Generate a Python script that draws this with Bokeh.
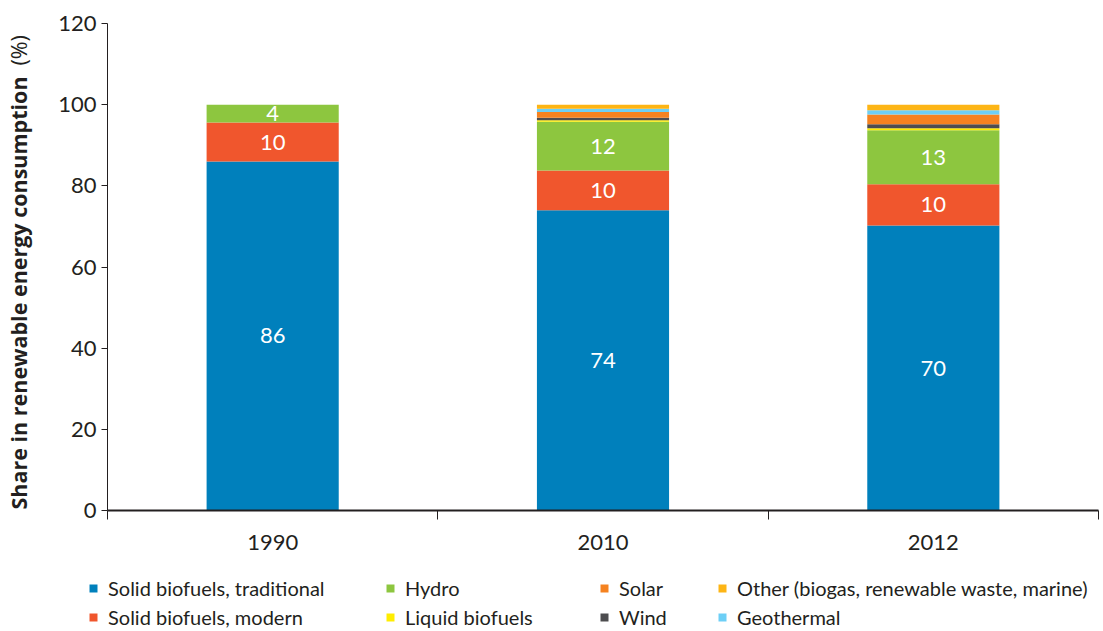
import math
from bokeh.plotting import figure
from bokeh.layouts import column, row
from bokeh.models import (ColumnDataSource, Range1d, FixedTicker, Legend,
                          LegendItem, Label)
from bokeh.core.properties import value
from bokeh.embed import file_html
from bokeh.resources import INLINE

# ---------------- data ----------------
years = ["1990", "2010", "2012"]
series = ["Solid biofuels, traditional", "Solid biofuels, modern", "Hydro",
          "Liquid biofuels", "Wind", "Solar", "Geothermal",
          "Other (biogas, renewable waste, marine)"]
trad = [86.0, 74.0, 70.2]
modern = [9.6, 9.8, 10.2]
hydro = [4.4, 12.0, 13.3]
liquid = [0.0, 0.35, 0.5]
wind = [0.0, 0.65, 1.0]
solar = [0.0, 1.4, 2.4]
geo = [0.0, 0.8, 1.0]
other = [0.0, 1.0, 1.4]
y_ticks = [0, 20, 40, 60, 80, 100, 120]

colors = ["#0080BC", "#F0562D", "#8DC63F", "#FFED00", "#4D4D4F",
          "#F58220", "#6DCFF6", "#FDB515"]
TXT = "#231F20"
FONT = "Lato"

values = [trad, modern, hydro, liquid, wind, solar, geo, other]
keys = ["s%d" % i for i in range(len(series))]
xs = [i + 0.5 for i in range(len(years))]
data = {"x": xs}
for k, v in zip(keys, values):
    data[k] = v
source = ColumnDataSource(data)

MAIN_H = 574

# ---------------- main chart ----------------
p = figure(width=1060, height=MAIN_H, output_backend="svg", toolbar_location=None,
           x_range=Range1d(0, len(years)), y_range=Range1d(0, 120),
           min_border_left=67, min_border_right=2, min_border_top=23,
           min_border_bottom=64)
p.outline_line_color = None
p.xgrid.visible = False
p.ygrid.visible = False

renderers = p.vbar_stack(keys, x="x", width=0.4, color=colors, source=source,
                         line_color=None)

# in-bar labels for the three biggest series
lx, ly, lt = [], [], []
for j in range(len(years)):
    base = 0.0
    for i in range(3):
        v = values[i][j]
        lx.append(xs[j])
        ly.append(base + v / 2.0)
        lt.append(str(int(round(v))))
        base += v
p.text(x=lx, y=ly, text=lt, text_color="white", text_align="center",
       text_baseline="middle", text_font=value(FONT), text_font_size="22px")

p.xaxis.ticker = FixedTicker(ticks=xs, minor_ticks=list(range(len(years) + 1)))
p.xaxis.major_label_overrides = {x: y for x, y in zip(xs, years)}
p.xaxis.major_tick_out = 0
p.xaxis.major_tick_in = 0
p.xaxis.minor_tick_out = 9
p.xaxis.minor_tick_in = 0
p.xaxis.minor_tick_line_color = TXT
p.xaxis.axis_line_width = 2
p.xaxis.axis_line_color = TXT
p.xaxis.major_label_standoff = 15

p.yaxis.ticker = FixedTicker(ticks=y_ticks)
p.yaxis.major_tick_out = 6
p.yaxis.major_tick_in = 0
p.yaxis.minor_tick_out = 0
p.yaxis.minor_tick_in = 0
p.yaxis.axis_line_color = TXT
p.yaxis.major_tick_line_color = TXT
p.yaxis.major_label_standoff = 5

for ax in (p.xaxis, p.yaxis):
    ax.major_label_text_font = FONT
    ax.major_label_text_font_size = "22px"
    ax.major_label_text_color = TXT

# ---------------- y-axis title strip ----------------
t = figure(width=40, height=MAIN_H, output_backend="svg", toolbar_location=None,
           x_range=Range1d(0, 1), y_range=Range1d(0, 1),
           x_axis_location=None, y_axis_location=None, min_border=0)
t.outline_line_color = None
t.xgrid.visible = False
t.ygrid.visible = False
t.add_layout(Label(x=18, y=1, x_units="screen", y_units="screen",
                   angle=math.pi / 2, text="Share in renewable energy consumption",
                   text_align="left", text_baseline="middle", text_font="Open Sans",
                   text_font_style="bold", text_font_size="21.5px", text_color=TXT))
t.add_layout(Label(x=18, y=445, x_units="screen", y_units="screen",
                   angle=math.pi / 2, text="(%)",
                   text_align="left", text_baseline="middle", text_font="Open Sans",
                   text_font_size="21.5px", text_color=TXT))

# ---------------- legend strip ----------------
lgf = figure(width=1100, height=55, output_backend="svg", toolbar_location=None,
             x_range=Range1d(0, 1), y_range=Range1d(0, 1),
             x_axis_location=None, y_axis_location=None, min_border=0)
lgf.outline_line_color = None
lgf.xgrid.visible = False
lgf.ygrid.visible = False
nan = float("nan")
swatches = [lgf.vbar(x=[nan], top=[nan], width=0.1, color=c, line_color=None)
            for c in colors]

columns = [[0, 1], [2, 3], [5, 4], [7, 6]]
col_x = [88, 385, 599, 717]
for cx, idxs in zip(col_x, columns):
    items = [LegendItem(label=series[i], renderers=[swatches[i]]) for i in idxs]
    lg = Legend(items=items, location=(cx, 0), orientation="vertical",
                glyph_width=10, glyph_height=10, label_standoff=10,
                label_text_font=FONT, label_text_font_size="20px",
                label_text_color=TXT, padding=0, margin=0, spacing=4,
                label_height=25, border_line_alpha=0, background_fill_alpha=0)
    lgf.add_layout(lg, "center")

layout = column(row(t, p), lgf)
open("out.html", "w").write(file_html(layout, INLINE))
